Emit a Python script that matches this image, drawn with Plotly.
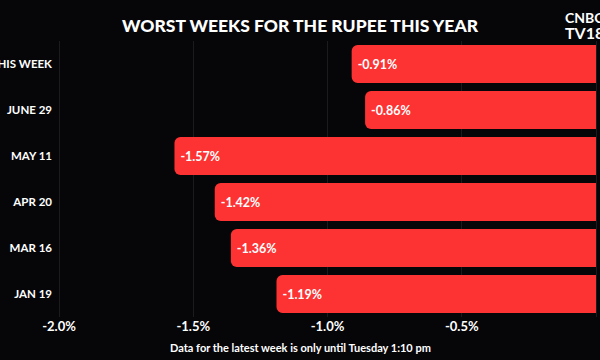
import plotly.graph_objects as go

weeks = ["THIS WEEK", "JUNE 29", "MAY 11", "APR 20", "MAR 16", "JAN 19"]
changes = [-0.91, -0.86, -1.57, -1.42, -1.36, -1.19]
tick_vals = [-2.0, -1.5, -1.0, -0.5, 0.0]
tick_text = ["-2.0%", "-1.5%", "-1.0%", "-0.5%", "0.0%"]
bar_labels = [f"{v:.2f}%" for v in changes]

W, H = 600, 360
FONT = "Lato"
BG = "#060608"

fig = go.Figure(go.Bar(
    x=changes, y=weeks, orientation="h",
    marker=dict(color="#fd3333", line=dict(width=0)),
    text=bar_labels, textposition="inside", insidetextanchor="end",
    textfont=dict(family=FONT, size=12.5, color="white", weight="bold"),
    cliponaxis=False,
))

fig.update_layout(
    width=W, height=H,
    margin=dict(l=55, r=0, t=41, b=43),
    paper_bgcolor=BG, plot_bgcolor=BG,
    bargap=0.17, barcornerradius=6,
    showlegend=False,
    title=dict(text="WORST WEEKS FOR THE RUPEE THIS YEAR", x=0.5, xanchor="center",
               y=1 - 26 / H, yanchor="middle",
               font=dict(family=FONT, size=17.5, color="white", weight=900)),
    xaxis=dict(range=[-2.0149, 0.0149], tickvals=tick_vals, ticktext=tick_text,
               showgrid=True, gridcolor="#1b1b1e", gridwidth=1, zeroline=False,
               showline=False, ticks="", automargin=False,
               tickfont=dict(family=FONT, size=13, color="white", weight="bold")),
    yaxis=dict(categoryorder="array", categoryarray=weeks[::-1], showgrid=False,
               zeroline=False, showline=False, ticks="", automargin=False,
               ticklabelstandoff=2,
               tickfont=dict(family=FONT, size=11.5, color="white", weight="bold")),
    annotations=[
        dict(text="Data for the latest week is only until Tuesday 1:10 pm",
             xref="paper", yref="paper", x=(300 - 55) / 545, y=-(347 - 317) / 276,
             xanchor="center", yanchor="middle", showarrow=False,
             font=dict(family=FONT, size=11, color="white", weight="bold")),
        dict(text="CNBC", xref="paper", yref="paper", x=(563 - 55) / 545, y=1 + (41 - 17) / 276,
             xanchor="left", yanchor="middle", showarrow=False,
             font=dict(family=FONT, size=14, color="white", weight="bold")),
        dict(text="TV18", xref="paper", yref="paper", x=(563 - 55) / 545, y=1 + (41 - 32) / 276,
             xanchor="left", yanchor="middle", showarrow=False,
             font=dict(family=FONT, size=16, color="white", weight="bold")),
    ],
)

fig.write_html("out.html")
